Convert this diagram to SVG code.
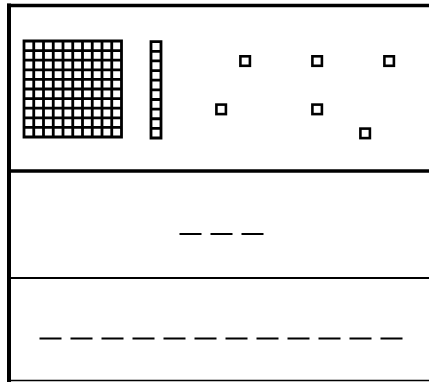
<svg xmlns="http://www.w3.org/2000/svg" width="429" height="382" viewBox="0 0 429 382">
<style>
.frame{stroke:#000;fill:none}
.g{stroke:#000;stroke-width:2.8;fill:none;stroke-linecap:square}
.sq{stroke:#000;stroke-width:2.6;fill:#fff}
.blank{stroke:#000;stroke-width:2;stroke-dasharray:22 9}
</style>
<rect width="429" height="382" fill="#fff"/>
<g id="frame">
<line class="frame" x1="9" y1="3.5" x2="9" y2="382" stroke-width="4"/>
<line class="frame" x1="7" y1="5.5" x2="429" y2="5.5" stroke-width="3.6"/>
<line class="frame" x1="7" y1="171" x2="429" y2="171" stroke-width="3.6"/>
<line class="frame" x1="7" y1="278" x2="429" y2="278" stroke-width="2"/>
<line class="frame" x1="7" y1="380.5" x2="429" y2="380.5" stroke-width="1.6"/>
</g>
<g id="hundred">
<path class="g" d="M24 41H121.5M24 50.6H121.5M24 60.2H121.5M24 69.8H121.5M24 79.4H121.5M24 89H121.5M24 98.6H121.5M24 108.2H121.5M24 117.8H121.5M24 127.4H121.5M24 137H121.5
M24 41V137M33.75 41V137M43.5 41V137M53.25 41V137M63 41V137M72.75 41V137M82.5 41V137M92.25 41V137M102 41V137M111.75 41V137M121.5 41V137"/>
</g>
<g id="ten">
<path class="g" d="M151 41.7V138M161 41.7V138M151 41.7H161M151 51.33H161M151 60.96H161M151 70.59H161M151 80.22H161M151 89.85H161M151 99.48H161M151 109.11H161M151 118.74H161M151 128.37H161M151 138H161"/>
</g>
<g id="ones">
<rect class="sq" x="240.4" y="56.3" width="9.5" height="9.5"/>
<rect class="sq" x="312.4" y="56.3" width="9.5" height="9.5"/>
<rect class="sq" x="384.4" y="56.3" width="9.5" height="9.5"/>
<rect class="sq" x="216.4" y="104.6" width="9.5" height="9.5"/>
<rect class="sq" x="312.4" y="104.6" width="9.5" height="9.5"/>
<rect class="sq" x="360.4" y="128.6" width="9.5" height="9.5"/>
</g>
<g id="blanks">
<line class="blank" x1="179.5" y1="234" x2="263.5" y2="234"/>
<line class="blank" x1="39.5" y1="338.5" x2="403" y2="338.5"/>
</g>
</svg>
